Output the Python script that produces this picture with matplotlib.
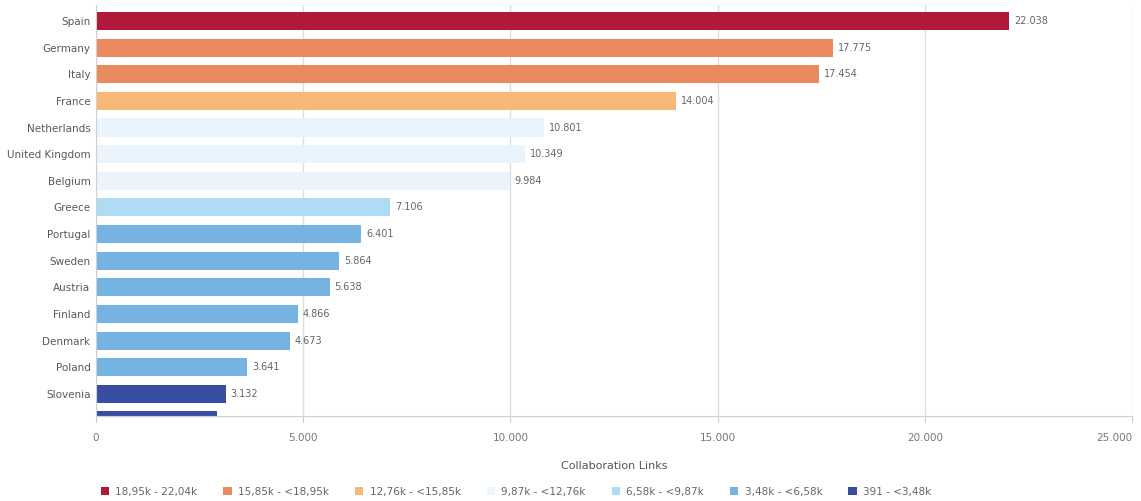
import matplotlib.pyplot as plt
from matplotlib.patches import Patch

countries = ["Spain", "Germany", "Italy", "France", "Netherlands", "United Kingdom",
             "Belgium", "Greece", "Portugal", "Sweden", "Austria", "Finland",
             "Denmark", "Poland", "Slovenia", "Ireland"]
links = [22038, 17775, 17454, 14004, 10801, 10349, 9984, 7106, 6401, 5864,
         5638, 4866, 4673, 3641, 3132, 2914]

bin_labels = ["18,95k - 22,04k", "15,85k - <18,95k", "12,76k - <15,85k",
              "9,87k - <12,76k", "6,58k - <9,87k", "3,48k - <6,58k", "391 - <3,48k"]
bin_lower = [18950, 15850, 12760, 9870, 6580, 3480, 391]
bin_colors = ["#b01a3a", "#ec8a5f", "#f7b878", "#e9f4fc", "#afdbf5", "#75b3e3", "#3a4ea1"]


def bin_of(v):
    for i, lo in enumerate(bin_lower):
        if v >= lo:
            return i
    return len(bin_lower) - 1


def fmt(v):
    return f"{v:,}".replace(",", ".")


fig = plt.figure(figsize=(11.41, 5.01), dpi=100)
ax = fig.add_axes([96 / 1141, 1 - 416 / 501, (1132 - 96) / 1141, (416 - 5) / 501])

# the chart is a scrolled view: the last row is only partly visible
y_bottom = 14.83
y = list(range(len(countries)))
colors = [bin_colors[bin_of(v)] for v in links]
ax.barh(y, links, height=0.68, color=colors, zorder=2)

visible = [i for i in y if i < y_bottom - 0.4]
for yi in visible:
    v = links[yi]
    ax.text(v + 120, yi, fmt(v), va="center", ha="left", fontsize=7, color="#666666")

ax.set_xlim(0, 25000)
ax.set_ylim(y_bottom, -0.6)
ax.set_yticks(visible)
ax.set_yticklabels([countries[i] for i in visible], fontsize=7.5, color="#595959")
xt = list(range(0, 25001, 5000))
ax.set_xticks(xt)
ax.set_xticklabels([fmt(t) for t in xt], fontsize=7.5, color="#777777")
ax.get_xticklabels()[-1].set_ha("right")
ax.tick_params(axis="y", length=0, pad=4)
ax.tick_params(axis="x", length=4, color="#cccccc", pad=8)
ax.grid(axis="x", color="#dddddd", linewidth=1, zorder=0)
for s in ["top", "right"]:
    ax.spines[s].set_visible(False)
ax.spines["left"].set_color("#d0d0d0")
ax.spines["bottom"].set_color("#d0d0d0")
ax.set_xlabel("Collaboration Links", fontsize=8, color="#555555", labelpad=13)

handles = [Patch(facecolor=c, edgecolor="none") for c in bin_colors]
fig.legend(handles, bin_labels, loc="lower left", bbox_to_anchor=(0.08, -0.01), ncol=7,
           frameon=False, fontsize=7.5, handlelength=0.8, handleheight=0.8,
           handletextpad=0.6, columnspacing=2.5, labelcolor="#666666")

fig.savefig("out.png", dpi=100, facecolor="white")
